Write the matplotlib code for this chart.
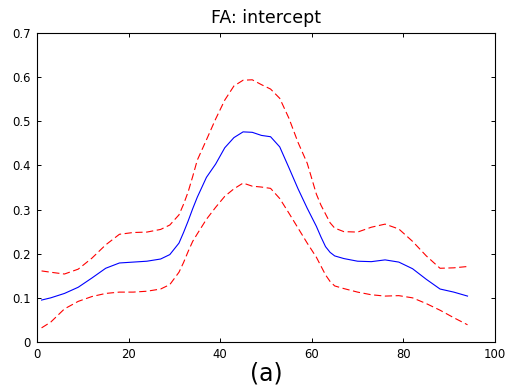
import matplotlib
matplotlib.use("Agg")
import matplotlib.pyplot as plt

# Arc-length position along the tract
position = [1, 3, 6, 9, 12, 15, 18, 21, 24, 27, 29, 31, 32, 33, 34, 35, 37, 39,
            41, 43, 45, 47, 49, 51, 53, 55, 57, 59, 61, 62, 63, 64, 65, 67, 70,
            73, 76, 79, 82, 85, 88, 91, 94]

# Estimated intercept function
intercept = [0.095, 0.100, 0.110, 0.124, 0.145, 0.167, 0.179, 0.181, 0.183,
             0.188, 0.198, 0.224, 0.248, 0.274, 0.302, 0.328, 0.373, 0.403,
             0.440, 0.463, 0.476, 0.475, 0.468, 0.465, 0.442, 0.395, 0.347,
             0.303, 0.262, 0.238, 0.216, 0.203, 0.195, 0.189, 0.183, 0.182,
             0.186, 0.181, 0.166, 0.142, 0.120, 0.113, 0.104]

# Pointwise confidence band
upper = [0.161, 0.158, 0.154, 0.165, 0.190, 0.220, 0.244, 0.248, 0.249, 0.255,
         0.265, 0.288, 0.312, 0.340, 0.375, 0.412, 0.458, 0.505, 0.548, 0.580,
         0.593, 0.594, 0.583, 0.573, 0.552, 0.507, 0.452, 0.405, 0.335, 0.310,
         0.290, 0.270, 0.258, 0.250, 0.249, 0.260, 0.267, 0.256, 0.228, 0.195,
         0.167, 0.168, 0.171]

lower = [0.032, 0.045, 0.075, 0.092, 0.103, 0.110, 0.113, 0.113, 0.115, 0.120,
         0.130, 0.158, 0.180, 0.205, 0.228, 0.245, 0.278, 0.305, 0.330, 0.347,
         0.360, 0.353, 0.351, 0.348, 0.325, 0.292, 0.258, 0.224, 0.192, 0.172,
         0.152, 0.137, 0.127, 0.121, 0.113, 0.107, 0.104, 0.105, 0.100, 0.087,
         0.072, 0.055, 0.039]

xticks = [0, 20, 40, 60, 80, 100]
yticks = [0, 0.1, 0.2, 0.3, 0.4, 0.5, 0.6, 0.7]
ytick_labels = ["0", "0.1", "0.2", "0.3", "0.4", "0.5", "0.6", "0.7"]

plt.rcParams["font.family"] = ["DejaVu Sans"]

fig = plt.figure(figsize=(5.08, 3.90), dpi=100)
ax = fig.add_axes([0.0728, 0.1231, 0.9016, 0.7923])

ax.plot(position, intercept, color="#0000ff", lw=0.8)
for band in (upper, lower):
    ln, = ax.plot(position, band, color="#ff0000", lw=0.8)
    ln.set_dashes([6.5, 3.2])

ax.set_xlim(0, 100)
ax.set_ylim(0, 0.7)
ax.set_xticks(xticks)
ax.set_xticklabels([str(t) for t in xticks])
ax.set_yticks(yticks)
ax.set_yticklabels(ytick_labels)
ax.tick_params(direction="in", length=3.2, width=0.7, labelsize=8.4,
               top=True, right=True, pad=4.5, colors="black")
for sp in ax.spines.values():
    sp.set_linewidth(0.8)

ax.set_title("FA: intercept", fontsize=12.5, pad=7)
ax.set_xlabel("(a)", fontsize=17, labelpad=0)

fig.savefig("out.png", dpi=100)
